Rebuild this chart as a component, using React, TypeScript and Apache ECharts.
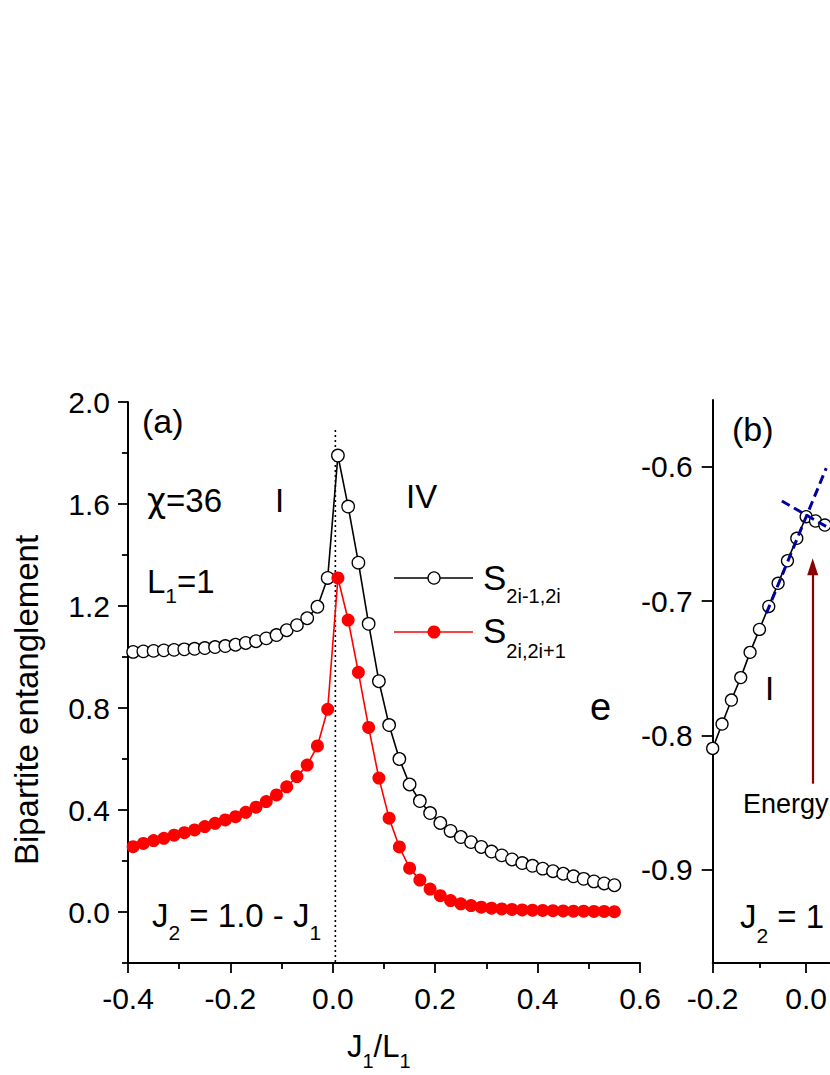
import React, { useEffect, useRef } from 'react';
import * as echarts from 'echarts';

const FONT = '"Liberation Sans", Arial, Helvetica, sans-serif';
const GREEK = '"DejaVu Sans", "Liberation Sans", sans-serif';

// ---------- Panel (a) data ----------
const jRatioA = [
  -0.39, -0.37, -0.35, -0.33, -0.31, -0.29, -0.27, -0.25, -0.23, -0.21,
  -0.19, -0.17, -0.15, -0.13, -0.11, -0.09, -0.07, -0.05, -0.03, -0.01,
  0.01, 0.03, 0.05, 0.07, 0.09, 0.11, 0.13, 0.15, 0.17, 0.19,
  0.21, 0.23, 0.25, 0.27, 0.29, 0.31, 0.33, 0.35, 0.37, 0.39,
  0.41, 0.43, 0.45, 0.47, 0.49, 0.51, 0.53, 0.55,
];
const sOddBond = [
  1.02, 1.022, 1.024, 1.026, 1.028, 1.03, 1.032, 1.035, 1.039, 1.043,
  1.048, 1.055, 1.062, 1.073, 1.086, 1.105, 1.125, 1.152, 1.197, 1.31,
  1.79, 1.59, 1.37, 1.13, 0.905, 0.733, 0.6, 0.5, 0.435, 0.388,
  0.349, 0.318, 0.294, 0.274, 0.255, 0.237, 0.222, 0.206, 0.192, 0.181,
  0.17, 0.16, 0.15, 0.14, 0.13, 0.12, 0.112, 0.105,
];
const sEvenBond = [
  0.256, 0.269, 0.28, 0.289, 0.301, 0.311, 0.322, 0.335, 0.348, 0.361,
  0.374, 0.391, 0.411, 0.433, 0.459, 0.491, 0.531, 0.576, 0.651, 0.795,
  1.31, 1.145, 0.94, 0.724, 0.525, 0.368, 0.255, 0.172, 0.125, 0.09,
  0.064, 0.045, 0.032, 0.025, 0.019, 0.015, 0.012, 0.01, 0.008, 0.007,
  0.006, 0.005, 0.004, 0.003, 0.003, 0.002, 0.002, 0.001,
];
const criticalX = [0.005, 0.005];
const criticalY = [1.89, -0.2];
const yMajorA = [0, 0.4, 0.8, 1.2, 1.6, 2.0];
const yMinorA = [-0.2, 0.2, 0.6, 1.0, 1.4, 1.8];

// ---------- Panel (b) data ----------
const jRatioB = [-0.2, -0.18, -0.16, -0.14, -0.12, -0.1, -0.08, -0.06, -0.04, -0.02, 0, 0.02, 0.04, 0.06];
const energyB = [-0.8097, -0.7916, -0.7737, -0.757, -0.7382, -0.7211, -0.704, -0.6868, -0.67, -0.6533, -0.6372, -0.6404, -0.6434, -0.6465];
const fitSteepX = [-0.085, 0.043];
const fitSteepY = [-0.709, -0.601];
const fitFlatX = [-0.052, 0.05];
const fitFlatY = [-0.6255, -0.6459];
const arrowX = 0.014;
const arrowY = [-0.836, -0.6745];
const yTicksB = [-0.9, -0.8, -0.7, -0.6];
const xMajorB = [-0.2, 0];
const xMinorB = [-0.1];

let mctx: CanvasRenderingContext2D | null = null;
function textWidth(t: string, fs: number, family: string) {
  if (!mctx) mctx = document.createElement('canvas').getContext('2d');
  mctx!.font = `${fs}px ${family}`;
  return mctx!.measureText(t).width;
}

type Seg = [string, number, number, string?];
function textRun(x: number, base: number, segs: Seg[], color = '#000') {
  const out: any[] = [];
  let cx = x;
  for (const [t, fs, dy, fam] of segs) {
    const family = fam || FONT;
    out.push({
      type: 'text',
      x: cx,
      y: base + dy - 0.3465 * fs,
      silent: true,
      style: {
        text: t,
        fontSize: fs,
        fontFamily: family,
        fill: color,
        textAlign: 'left',
        align: 'left',
        textVerticalAlign: 'middle',
        verticalAlign: 'middle',
      },
    });
    cx += textWidth(t, fs, family);
  }
  return out;
}

function rotText(x: number, y: number, t: string, fs: number) {
  return {
    type: 'text',
    x,
    y,
    rotation: Math.PI / 2,
    silent: true,
    style: {
      text: t,
      fontSize: fs,
      fontFamily: FONT,
      fill: '#000',
      textAlign: 'center',
      align: 'center',
      textVerticalAlign: 'middle',
      verticalAlign: 'middle',
    },
  };
}

const axisLineStyle = { color: '#000', width: 2 };
const tickLineStyle = { color: '#000', width: 1.8 };
const labelStyle = { color: '#000', fontSize: 30, fontFamily: FONT };

export default function App() {
  const ref = useRef<HTMLDivElement>(null);

  useEffect(() => {
    document.body.style.margin = '0';
    if (!ref.current) return;
    const chart = echarts.init(ref.current, undefined, { renderer: 'svg' });

    const pairs = (xs: number[], ys: number[]) => xs.map((x, i) => [x, ys[i]]);

    const graphics: any[] = [
      ...textRun(142, 433, [['(a)', 34, 0]]),
      ...textRun(147, 512, [['χ', 33, 0, GREEK], ['=36', 33, 0]]),
      ...textRun(275, 512, [['I', 33, 0]]),
      ...textRun(406, 508, [['IV', 33, 0]]),
      ...textRun(147, 593, [['L', 33, 0], ['1', 21, 10], ['=1', 33, 0]]),
      ...textRun(152, 927, [['J', 33, 0], ['2', 21, 13], [' = 1.0 - J', 33, 0], ['1', 21, 13]]),
      // legend
      { type: 'line', silent: true, shape: { x1: 394, y1: 578, x2: 473, y2: 578 }, style: { stroke: '#000', lineWidth: 1.5 } },
      { type: 'circle', silent: true, shape: { cx: 434, cy: 578, r: 6 }, style: { fill: '#fff', stroke: '#000', lineWidth: 1.3 } },
      ...textRun(483, 590, [['S', 35, 0], ['2i-1,2i', 20, 13]]),
      { type: 'line', silent: true, shape: { x1: 394, y1: 632, x2: 473, y2: 632 }, style: { stroke: '#f00', lineWidth: 1.5 } },
      { type: 'circle', silent: true, shape: { cx: 434, cy: 632, r: 6.5 }, style: { fill: '#f00', stroke: '#f00', lineWidth: 0 } },
      ...textRun(483, 643, [['S', 35, 0], ['2i,2i+1', 20, 15]]),
      // axis titles
      rotText(26, 700, 'Bipartite entanglement', 33),
      ...textRun(347, 1057, [['J', 31, 0], ['1', 20, 11], ['/L', 31, 0], ['1', 20, 11]]),
      // panel b
      ...textRun(732, 441, [['(b)', 34, 0]]),
      ...textRun(765, 700, [['I', 33, 0]]),
      ...textRun(743, 813, [['Energy', 27, 0]]),
      ...textRun(740, 928, [['J', 33, 0], ['2', 21, 15], [' = 1', 33, 0]]),
      ...textRun(590, 720, [['e', 38, 0]]),
    ];

    const option: any = {
      animation: false,
      backgroundColor: '#fff',
      grid: [
        { left: 128, top: 402, width: 512, height: 561 },
        { left: 712.7, top: 400, width: 117.3, height: 563 },
      ],
      xAxis: [
        {
          type: 'value', gridIndex: 0, position: 'bottom', min: -0.4, max: 0.6, interval: 0.2,
          axisLine: { onZero: false, lineStyle: axisLineStyle },
          axisTick: { show: true, length: 10, lineStyle: tickLineStyle },
          minorTick: { show: true, splitNumber: 2, length: 6, lineStyle: tickLineStyle },
          axisLabel: { ...labelStyle, margin: 20, formatter: (v: number) => v.toFixed(1) },
          splitLine: { show: false },
        },
        {
          type: 'value', gridIndex: 1, position: 'bottom', min: -0.2, max: 0.0496,
          axisLine: { onZero: false, lineStyle: axisLineStyle },
          axisTick: { show: true, length: 10, lineStyle: tickLineStyle, customValues: xMajorB },
          axisLabel: { ...labelStyle, margin: 20, customValues: xMajorB, formatter: (v: number) => v.toFixed(1) },
          splitLine: { show: false },
        },
        {
          type: 'value', gridIndex: 1, position: 'bottom', min: -0.2, max: 0.0496,
          axisLine: { show: false, onZero: false },
          axisTick: { show: true, length: 5, lineStyle: tickLineStyle, customValues: xMinorB },
          axisLabel: { show: false },
          splitLine: { show: false },
        },
      ],
      yAxis: [
        {
          type: 'value', gridIndex: 0, position: 'left', min: -0.2, max: 2.0, interval: 0.2,
          axisLine: { show: true, onZero: false, lineStyle: axisLineStyle },
          axisTick: { show: true, length: 10, lineStyle: tickLineStyle, customValues: yMajorA },
          axisLabel: {
            ...labelStyle, margin: 18, customValues: yMajorA,
            formatter: (v: number) => (Math.abs(Math.round(v / 0.4) * 0.4 - v) < 1e-6 ? v.toFixed(1) : ''),
          },
          splitLine: { show: false },
        },
        {
          type: 'value', gridIndex: 0, position: 'left', offset: 0, min: -0.2, max: 2.0, interval: 0.2,
          axisLine: { show: false, onZero: false },
          axisTick: { show: true, length: 6, lineStyle: tickLineStyle, customValues: yMinorA },
          axisLabel: { show: false },
          splitLine: { show: false },
        },
        {
          type: 'value', gridIndex: 1, position: 'left', min: -0.9695, max: -0.5503,
          axisLine: { show: true, onZero: false, lineStyle: axisLineStyle },
          axisTick: { show: true, length: 11, lineStyle: tickLineStyle, customValues: yTicksB },
          axisLabel: { ...labelStyle, margin: 20, customValues: yTicksB, formatter: (v: number) => v.toFixed(1) },
          splitLine: { show: false },
        },
      ],
      series: [
        {
          type: 'line', xAxisIndex: 0, yAxisIndex: 0, silent: true,
          data: pairs(criticalX, criticalY), symbol: 'none',
          lineStyle: { color: '#000', width: 1.6, type: [2, 3] },
        },
        {
          name: 'S2i-1,2i', type: 'line', xAxisIndex: 0, yAxisIndex: 0, silent: true,
          data: pairs(jRatioA, sOddBond), symbol: 'circle', symbolSize: 12.5,
          itemStyle: { color: '#fff', borderColor: '#000', borderWidth: 1.3 },
          lineStyle: { color: '#000', width: 1.6 },
        },
        {
          name: 'S2i,2i+1', type: 'line', xAxisIndex: 0, yAxisIndex: 0, silent: true,
          data: pairs(jRatioA, sEvenBond), symbol: 'circle', symbolSize: 13,
          itemStyle: { color: '#ff0000', borderWidth: 0 },
          lineStyle: { color: '#ff0000', width: 1.6 },
        },
        {
          name: 'e', type: 'line', xAxisIndex: 1, yAxisIndex: 2, silent: true,
          data: pairs(jRatioB, energyB), symbol: 'circle', symbolSize: 12,
          itemStyle: { color: '#fff', borderColor: '#000', borderWidth: 1.3 },
          lineStyle: { color: '#000', width: 1.6 },
          markLine: {
            silent: true, symbol: ['none', 'triangle'], symbolSize: [11, 17],
            lineStyle: { color: '#8b0000', width: 2.2, type: 'solid' },
            label: { show: false },
            data: [[{ coord: [arrowX, arrowY[0]] }, { coord: [arrowX, arrowY[1]] }]],
          },
        },
        {
          type: 'line', xAxisIndex: 1, yAxisIndex: 2, silent: true, z: 4,
          data: pairs(fitSteepX, fitSteepY), symbol: 'none',
          lineStyle: { color: '#00009c', width: 3, type: [9, 5] },
        },
        {
          type: 'line', xAxisIndex: 1, yAxisIndex: 2, silent: true, z: 4,
          data: pairs(fitFlatX, fitFlatY), symbol: 'none',
          lineStyle: { color: '#00009c', width: 3, type: [9, 5] },
        },
      ],
      graphic: { elements: graphics },
    };

    chart.setOption(option);
    return () => chart.dispose();
  }, []);

  return <div ref={ref} style={{ width: 830, height: 1075, background: '#fff' }} />;
}
